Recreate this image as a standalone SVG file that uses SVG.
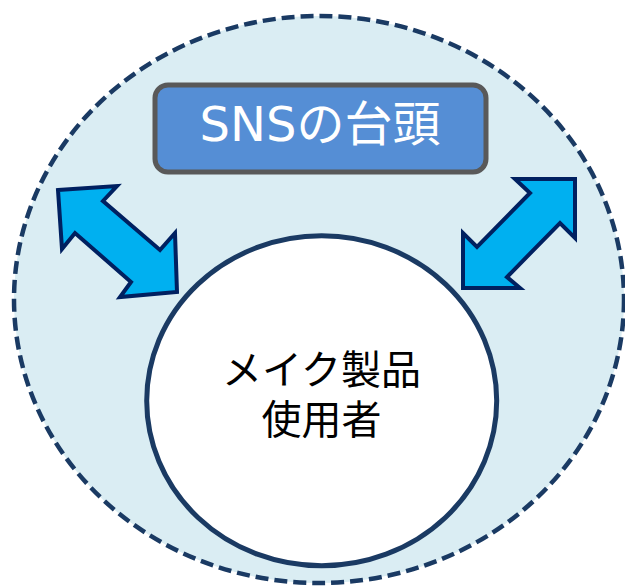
<svg xmlns="http://www.w3.org/2000/svg" width="625" height="586" viewBox="0 0 625 586">
  <style>
    .outer { fill: #DAEDF3; stroke: #1A3A63; stroke-width: 4.5; stroke-dasharray: 13 6; }
    .inner { fill: #FFFFFF; stroke: #1A3A63; stroke-width: 5; }
    .box { fill: #558ED5; stroke: #595959; stroke-width: 5; }
    .arrow { fill: #00B0F0; stroke: #002060; stroke-width: 4; stroke-linejoin: miter; }
    .title { font-family: "DejaVu Sans", "Noto Sans CJK JP", sans-serif; font-size: 48px; fill: #FFFFFF; text-anchor: middle; }
    .label { font-family: "Noto Sans CJK JP", sans-serif; font-size: 40px; fill: #000000; text-anchor: middle; }
  </style>
  <rect width="625" height="586" fill="#FFFFFF"/>
  <g id="sns-sphere">
    <ellipse class="outer" cx="319" cy="299.5" rx="305" ry="283.5"/>
  </g>
  <g id="sns-rise">
    <rect class="box" x="155" y="85" width="331" height="87" rx="13" ry="13"/>
    <text class="title" x="320" y="141">SNSの台頭</text>
  </g>
  <g id="makeup-users">
    <ellipse class="inner" cx="321.7" cy="400.8" rx="175" ry="165"/>
    <text class="label"><tspan x="321.5" y="384">メイク製品</tspan><tspan x="321.5" y="434">使用者</tspan></text>
  </g>
  <g id="connectors">
    <polygon class="arrow" points="58,190 117,186 103,201 160,250 175,233 177,292 120,297 131,282 75,233 62,249"/>
    <polygon class="arrow" points="575,179 575,238 560,223 507,277 520,288 463,288 463,233 477,247 530,193 515,179"/>
  </g>
</svg>
